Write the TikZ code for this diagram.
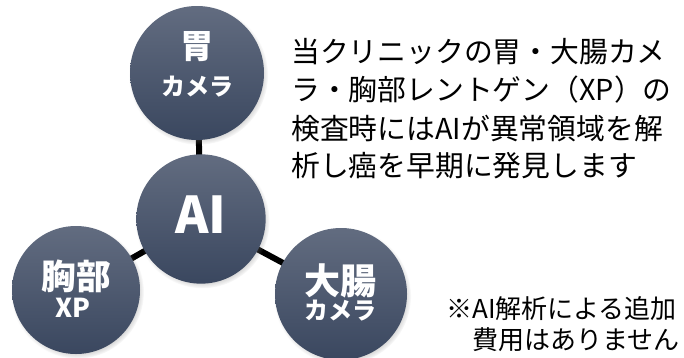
\documentclass[tikz,border=0pt]{standalone}
\usepackage{fontspec}
\usepackage{xcolor}
\newfontfamily\jp{Noto Sans CJK JP}
\usetikzlibrary{shadows,backgrounds}
\definecolor{ballTop}{RGB}{98,108,128}
\definecolor{ballBot}{RGB}{58,71,95}
\tikzset{
  ball/.style={circle, minimum size=#1, inner sep=0pt,
    top color=ballTop, bottom color=ballBot, draw=none,
    circular drop shadow={shadow xshift=1pt, shadow yshift=-1.5pt,
      shadow scale=1.04, opacity=.55}, text=white, align=center},
  spoke/.style={line width=4.5pt, black},
  big/.style={font=\jp\bfseries\fontsize{#1}{#1}\selectfont},
  info/.style={anchor=base west, inner sep=0pt, font=\jp\fontsize{21.6}{21.6}\selectfont},
  note/.style={anchor=base west, inner sep=0pt, font=\jp\fontsize{19.5}{19.5}\selectfont}
}

\begin{document}
\begin{tikzpicture}[x=0.75pt, y=-0.75pt]
    \useasboundingbox (0,0) rectangle (684,357);
    % the four balls
    \node[ball=100.5pt] (stomach) at (197,73) {};
    \node[ball=97pt] (ai) at (201,219) {};
    \node[ball=96pt] (chest) at (76,290) {};
    \node[ball=99pt] (colon) at (341,294) {};
    % spokes behind the balls
    \begin{scope}[on background layer]
        \draw[spoke] (ai.center) -- (stomach.center);
        \draw[spoke] (ai.center) -- (chest.center);
        \draw[spoke] (ai.center) -- (colon.center);
    \end{scope}
    % labels on the balls
    \node[big=25pt, text=white] (stomachA) at (197,47) {胃};
    \node[big=18pt, text=white] (stomachB) at (197,87) {カメラ};
    \node[big=38pt, text=white] (aiA) at (201,215) {AI};
    \node[big=26pt, text=white] (chestA) at (76,276.5) {胸部};
    \node[big=19.5pt, text=white] (chestB) at (73,307.5) {XP};
    \node[big=27pt, text=white] (colonA) at (340,281) {大腸};
    \node[big=18pt, text=white] (colonB) at (340,311) {カメラ};
    % text on the right
    \node[info] (info1) at (291,62) {当クリニックの胃・大腸カメ};
    \node[info] (info2) at (291,100.5) {ラ・胸部レントゲン（XP）の};
    \node[info] (info3) at (291,139) {検査時にはAIが異常領域を解};
    \node[info] (info4) at (291,176.5) {析し癌を早期に発見します};
    \node[note] (note1) at (446,318.5) {※AI解析による追加};
    \node[note] (note2) at (472,349.5) {費用はありません};
\end{tikzpicture}
\end{document}
